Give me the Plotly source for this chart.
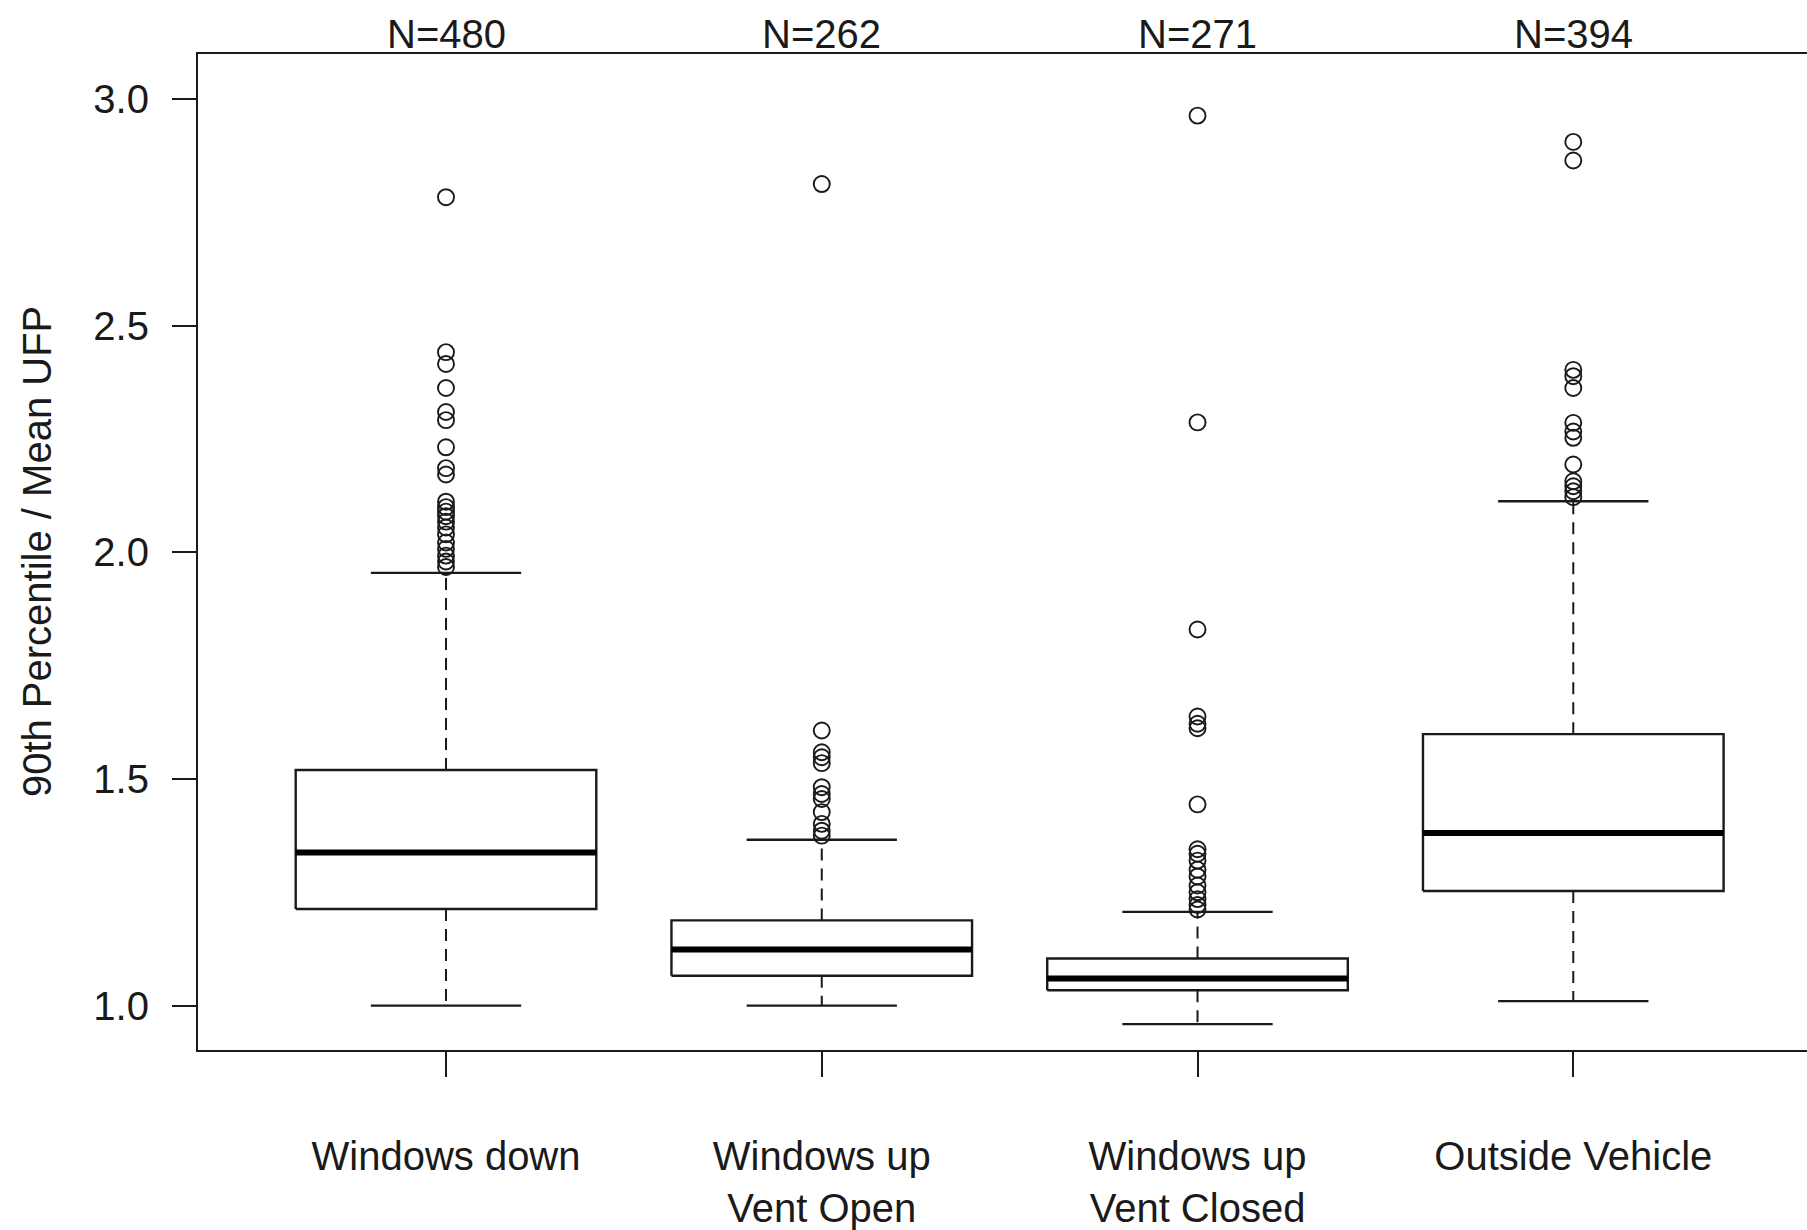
import plotly.graph_objects as go

# Groups and their positions on the x axis
groups = ["Windows down", "Windows up Vent Open", "Windows up Vent Closed", "Outside Vehicle"]
tick_labels = ["Windows down", "Windows up<br>Vent Open", "Windows up<br>Vent Closed", "Outside Vehicle"]
positions = [1, 2, 3, 4]
n_labels = ["N=480", "N=262", "N=271", "N=394"]

# Five-number summaries (whisker ends, quartiles, median)
lower_whisker = [1.000, 1.000, 0.959, 1.010]
q1 = [1.213, 1.066, 1.034, 1.253]
median = [1.338, 1.124, 1.060, 1.381]
q3 = [1.520, 1.188, 1.104, 1.599]
upper_whisker = [1.955, 1.366, 1.207, 2.113]

# Points beyond the whiskers
outliers = [
    [2.784, 2.442, 2.416, 2.363, 2.310, 2.292, 2.232, 2.186, 2.172, 2.112, 2.100,
     2.090, 2.080, 2.068, 2.055, 2.040, 2.022, 2.008, 1.993, 1.980, 1.968],
    [2.813, 1.607, 1.559, 1.548, 1.535, 1.482, 1.467, 1.456, 1.427, 1.401, 1.386,
     1.375],
    [2.964, 2.287, 1.830, 1.638, 1.622, 1.612, 1.444, 1.345, 1.335, 1.320, 1.300,
     1.285, 1.265, 1.250, 1.235, 1.222, 1.212],
    [2.906, 2.865, 2.403, 2.389, 2.363, 2.286, 2.267, 2.253, 2.194, 2.157, 2.146,
     2.135, 2.122],
]

y_ticks = [1.0, 1.5, 2.0, 2.5, 3.0]
y_title = "90th Percentile / Mean UFP"

BOX_HALF = 0.4
CAP_HALF = 0.2
INK = "#1a1a1a"
FONT = "Liberation Sans, Arial, Helvetica, sans-serif"
FONT_SIZE = 40

fig = go.Figure()

for i, p in enumerate(positions):
    # dashed whiskers
    fig.add_trace(go.Scatter(
        x=[p, p, None, p, p],
        y=[q3[i], upper_whisker[i], None, q1[i], lower_whisker[i]],
        mode="lines", line=dict(color=INK, width=2, dash="12px,8px"),
        hoverinfo="skip", showlegend=False))
    # whisker caps
    fig.add_trace(go.Scatter(
        x=[p - CAP_HALF, p + CAP_HALF, None, p - CAP_HALF, p + CAP_HALF],
        y=[upper_whisker[i], upper_whisker[i], None, lower_whisker[i], lower_whisker[i]],
        mode="lines", line=dict(color=INK, width=2.3),
        hoverinfo="skip", showlegend=False))
    # box
    fig.add_trace(go.Scatter(
        x=[p - BOX_HALF, p + BOX_HALF, p + BOX_HALF, p - BOX_HALF, p - BOX_HALF],
        y=[q1[i], q1[i], q3[i], q3[i], q1[i]],
        mode="lines", line=dict(color=INK, width=2.4),
        name=groups[i], showlegend=False))
    # median
    fig.add_trace(go.Scatter(
        x=[p - BOX_HALF, p + BOX_HALF],
        y=[median[i], median[i]],
        mode="lines", line=dict(color="#000000", width=6),
        hoverinfo="skip", showlegend=False))
    # outliers
    fig.add_trace(go.Scatter(
        x=[p] * len(outliers[i]), y=outliers[i],
        mode="markers",
        marker=dict(symbol="circle-open", size=16, color=INK, line=dict(width=1.9)),
        name=groups[i], showlegend=False))

# sample sizes above each group
for p, label in zip(positions, n_labels):
    fig.add_annotation(x=p, xref="x", y=1.0205, yref="paper", text=label,
                       showarrow=False, yanchor="middle",
                       font=dict(family=FONT, size=FONT_SIZE, color=INK))

# rotated y-axis title
fig.add_annotation(x=-0.1, xref="paper", y=0.5, yref="paper", text=y_title,
                   textangle=-90, showarrow=False, xanchor="center", yanchor="middle",
                   font=dict(family=FONT, size=FONT_SIZE, color=INK))

fig.update_layout(
    width=1807, height=1230,
    margin=dict(l=198, r=0, t=54, b=177),
    paper_bgcolor="white", plot_bgcolor="white",
    font=dict(family=FONT, color=INK),
)

fig.update_xaxes(
    range=[0.34, 4.622],
    tickmode="array", tickvals=positions, ticktext=tick_labels,
    ticks="outside", ticklen=25, tickwidth=2, tickcolor=INK,
    ticklabelstandoff=45,
    tickfont=dict(family=FONT, size=FONT_SIZE, color=INK),
    showline=True, linecolor=INK, linewidth=2.2, mirror=True,
    showgrid=False, zeroline=False,
)

fig.update_yaxes(
    range=[0.902, 3.100],
    tickmode="array", tickvals=y_ticks, tickformat=".1f",
    ticks="outside", ticklen=24, tickwidth=2, tickcolor=INK,
    ticklabelstandoff=15,
    tickfont=dict(family=FONT, size=FONT_SIZE, color=INK),
    showline=True, linecolor=INK, linewidth=2.2, mirror=False,
    showgrid=False, zeroline=False,
)

fig.write_html("out.html")
